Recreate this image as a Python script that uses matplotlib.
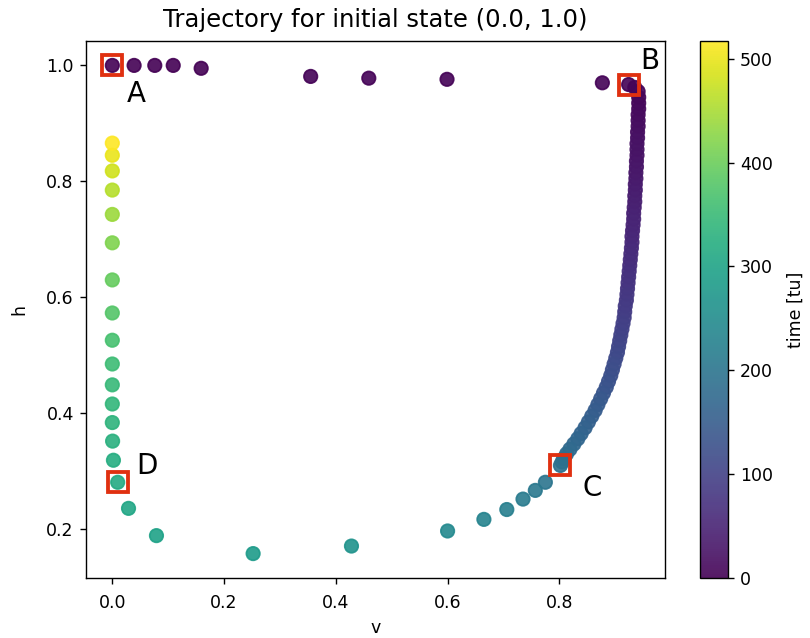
import numpy as np
import matplotlib
matplotlib.use("Agg")
from matplotlib import pyplot as plt

# upstroke: A -> B (nearly flat at h ~ 1)
v_up = [0.0, 0.039, 0.076, 0.109, 0.159, 0.355, 0.459, 0.599, 0.877, 0.924]
h_up = [1.0, 1.0, 1.0, 1.0, 0.995, 0.981, 0.978, 0.976, 0.970, 0.967]
t_up = [0.0, 0.4, 0.8, 1.2, 1.6, 2.2, 2.6, 3.0, 3.5, 4.0]

# plateau: B -> C (dense band on the right)
v_plat = [0.935, 0.941, 0.942, 0.942, 0.942, 0.941, 0.941, 0.941, 0.940, 0.940,
          0.939, 0.939, 0.939, 0.938, 0.938, 0.937, 0.937, 0.936, 0.936, 0.935,
          0.935, 0.934, 0.933, 0.933, 0.932, 0.931, 0.930, 0.930, 0.929, 0.928,
          0.927, 0.926, 0.925, 0.924, 0.923, 0.922, 0.921, 0.920, 0.918, 0.917,
          0.916, 0.914, 0.912, 0.910, 0.908, 0.906, 0.904, 0.901, 0.898, 0.895,
          0.892, 0.888, 0.884, 0.879, 0.874, 0.869, 0.864, 0.858, 0.852, 0.846,
          0.839, 0.833, 0.826, 0.819, 0.813, 0.808, 0.805, 0.802]
h_plat = [0.962, 0.955, 0.945, 0.935, 0.925, 0.915, 0.905, 0.895, 0.885, 0.875,
          0.865, 0.855, 0.845, 0.835, 0.825, 0.815, 0.805, 0.795, 0.785, 0.775,
          0.765, 0.755, 0.745, 0.735, 0.725, 0.715, 0.705, 0.695, 0.685, 0.675,
          0.665, 0.655, 0.645, 0.635, 0.625, 0.615, 0.605, 0.595, 0.585, 0.575,
          0.565, 0.555, 0.545, 0.535, 0.525, 0.515, 0.505, 0.495, 0.485, 0.475,
          0.465, 0.455, 0.445, 0.435, 0.425, 0.415, 0.405, 0.395, 0.385, 0.375,
          0.365, 0.356, 0.347, 0.338, 0.330, 0.322, 0.316, 0.310]
t_plat = [4.9, 6.1, 7.9, 9.6, 11.4, 13.1, 14.9, 16.8, 18.6, 20.5,
          22.4, 24.4, 26.2, 28.2, 30.2, 32.3, 34.3, 36.3, 38.4, 40.5,
          42.6, 44.8, 47.0, 49.2, 51.5, 53.8, 56.1, 58.5, 60.9, 63.3,
          65.8, 68.2, 70.8, 73.4, 76.1, 78.7, 81.3, 84.1, 87.0, 89.8,
          92.7, 95.6, 98.6, 101.7, 104.8, 108.0, 111.1, 114.4, 117.9, 121.3,
          124.8, 128.4, 132.0, 135.8, 139.6, 143.6, 147.6, 151.7, 155.9, 160.3,
          164.7, 168.9, 173.1, 177.5, 181.4, 185.4, 188.6, 191.7]

# repolarisation: C -> bottom -> D
v_rep = [0.775, 0.757, 0.735, 0.706, 0.665, 0.600, 0.428, 0.252, 0.079, 0.029, 0.0096]
h_rep = [0.281, 0.267, 0.252, 0.234, 0.217, 0.197, 0.171, 0.158, 0.189, 0.236, 0.281]
t_rep = [200, 206, 213, 222, 231, 244, 265, 282, 298, 306, 314]

# recovery: D -> top of left column
v_rec = [0.002, 0.0005, 0.0, 0.0, 0.0, 0.0, 0.0, 0.0, 0.0, 0.0, 0.0, 0.0, 0.0, 0.0, 0.0]
h_rec = [0.319, 0.352, 0.384, 0.416, 0.449, 0.485, 0.526, 0.573, 0.630, 0.694,
         0.743, 0.785, 0.818, 0.845, 0.866]
t_rec = [321, 328, 334, 340, 347, 355, 365, 378, 395, 418, 439, 460, 480, 499, 517]

# marked states
mark_labels = ['A', 'B', 'C', 'D']
mark_v = [0.0, 0.924, 0.802, 0.0096]
mark_h = [1.0, 0.967, 0.310, 0.281]
mark_offsets = [(13.8, -16.7), (12.3, 13.4), (18.4, -13.2), (17.1, 9.2)]

v = np.array(v_up + v_plat + v_rep + v_rec)
h = np.array(h_up + h_plat + h_rep + h_rec)
t = np.array(t_up + t_plat + t_rep + t_rec)

fig = plt.figure(figsize=(810 / 125, 638 / 125), dpi=125)
ax = fig.add_axes([86 / 810, 60 / 638, 579 / 810, 537 / 638])
cax = fig.add_axes([700 / 810, 60 / 638, 28 / 810, 537 / 638])

sc = ax.scatter(v, h, c=t, cmap='viridis', s=60, alpha=0.9)
ax.plot(mark_v, mark_h, linestyle='none', marker='s', markersize=12,
        markerfacecolor='none', markeredgecolor='#e03010', markeredgewidth=2.2, zorder=3)
for lab, mv, mh, off in zip(mark_labels, mark_v, mark_h, mark_offsets):
    ax.annotate(lab, (mv, mh), xytext=off, textcoords='offset points',
                ha='center', va='center', fontsize=16)

ax.set_title("Trajectory for initial state (0.0, 1.0)", fontsize=14, pad=8)
ax.tick_params(axis='x', pad=6)
ax.set_xlabel("v", labelpad=4)
ax.set_ylabel("h", labelpad=10)
cb = fig.colorbar(sc, cax=cax)
cb.set_label("time [tu]", labelpad=8)

plt.savefig("out.png", dpi=125)
